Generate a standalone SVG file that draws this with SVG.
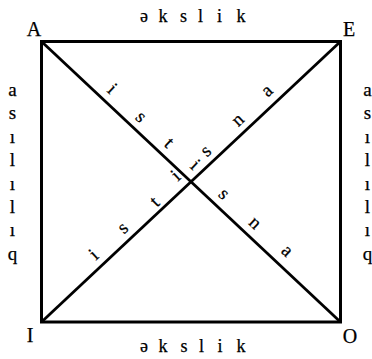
<svg xmlns="http://www.w3.org/2000/svg" width="372" height="359" viewBox="0 0 372 359">
<style>
text{font-family:"Liberation Serif","DejaVu Serif","Times New Roman",serif;fill:#000;stroke:#000;stroke-width:0.25}
.lab{font-size:18px;text-anchor:middle}
.cor{font-size:20px;text-anchor:middle}
.col{font-size:19px;text-anchor:middle}
.d{font-size:19px;text-anchor:middle}
.edge{stroke:#000;stroke-width:3;fill:none}
.diag{stroke:#000;stroke-width:2.8;fill:none}
</style>
<rect width="372" height="359" fill="#fff"/>
<g id="connectors">
<rect class="edge" x="41.5" y="41.5" width="299" height="280.5"/>
<line class="diag" x1="41.5" y1="41.5" x2="340.5" y2="322"/>
<line class="diag" x1="41.5" y1="322" x2="340.5" y2="41.5"/>
</g>
<g id="node-A"><text class="cor" x="34" y="36">A</text></g>
<g id="node-E"><text class="cor" x="349" y="36">E</text></g>
<g id="node-I"><text class="cor" x="30" y="342">I</text></g>
<g id="node-O"><text class="cor" x="350" y="343">O</text></g>
<g id="label-top" class="lab">
<text x="144" y="22">ə</text><text x="163" y="22">k</text><text x="183.5" y="22">s</text><text x="200.5" y="22">l</text><text x="219.5" y="22">i</text><text x="241" y="22">k</text>
</g>
<g id="label-bottom" class="lab">
<text x="144" y="352">ə</text><text x="163" y="352">k</text><text x="184" y="352">s</text><text x="201.5" y="352">l</text><text x="220" y="352">i</text><text x="241" y="352">k</text>
</g>
<g id="label-left" class="col">
<text x="12.5" y="96">a</text><text x="12.5" y="119.4">s</text><text x="12.5" y="142.8">ı</text><text x="12.5" y="166.2">l</text><text x="12.5" y="189.6">ı</text><text x="12.5" y="213">l</text><text x="12.5" y="236.4">ı</text><text x="12.5" y="259.8">q</text>
</g>
<g id="label-right" class="col">
<text x="367.5" y="96">a</text><text x="367.5" y="119.4">s</text><text x="367.5" y="142.8">ı</text><text x="367.5" y="166.2">l</text><text x="367.5" y="189.6">ı</text><text x="367.5" y="213">l</text><text x="367.5" y="236.4">ı</text><text x="367.5" y="259.8">q</text>
</g>
<g id="label-AO" class="d">
<text transform="translate(112,89) rotate(43.1)" y="5.5">i</text>
<text transform="translate(140,118) rotate(43.1)" y="4">s</text>
<text transform="translate(169,143) rotate(43.1)" y="5.5">t</text>
<text transform="translate(195,165) rotate(43.1)" y="5.5">i</text>
<text transform="translate(223,195) rotate(43.1)" y="4">s</text>
<text transform="translate(254,224) rotate(43.1)" y="4">n</text>
<text transform="translate(286,252) rotate(43.1)" y="4">a</text>
</g>
<g id="label-IE" class="d">
<text transform="translate(94,255) rotate(-43.1)" y="5.5">i</text>
<text transform="translate(124,229) rotate(-43.1)" y="4">s</text>
<text transform="translate(155,202) rotate(-43.1)" y="5.5">t</text>
<text transform="translate(176,176) rotate(-43.1)" y="5.5">i</text>
<text transform="translate(207,152) rotate(-43.1)" y="4">s</text>
<text transform="translate(239,121) rotate(-43.1)" y="4">n</text>
<text transform="translate(268,92) rotate(-43.1)" y="4">a</text>
</g>
</svg>
